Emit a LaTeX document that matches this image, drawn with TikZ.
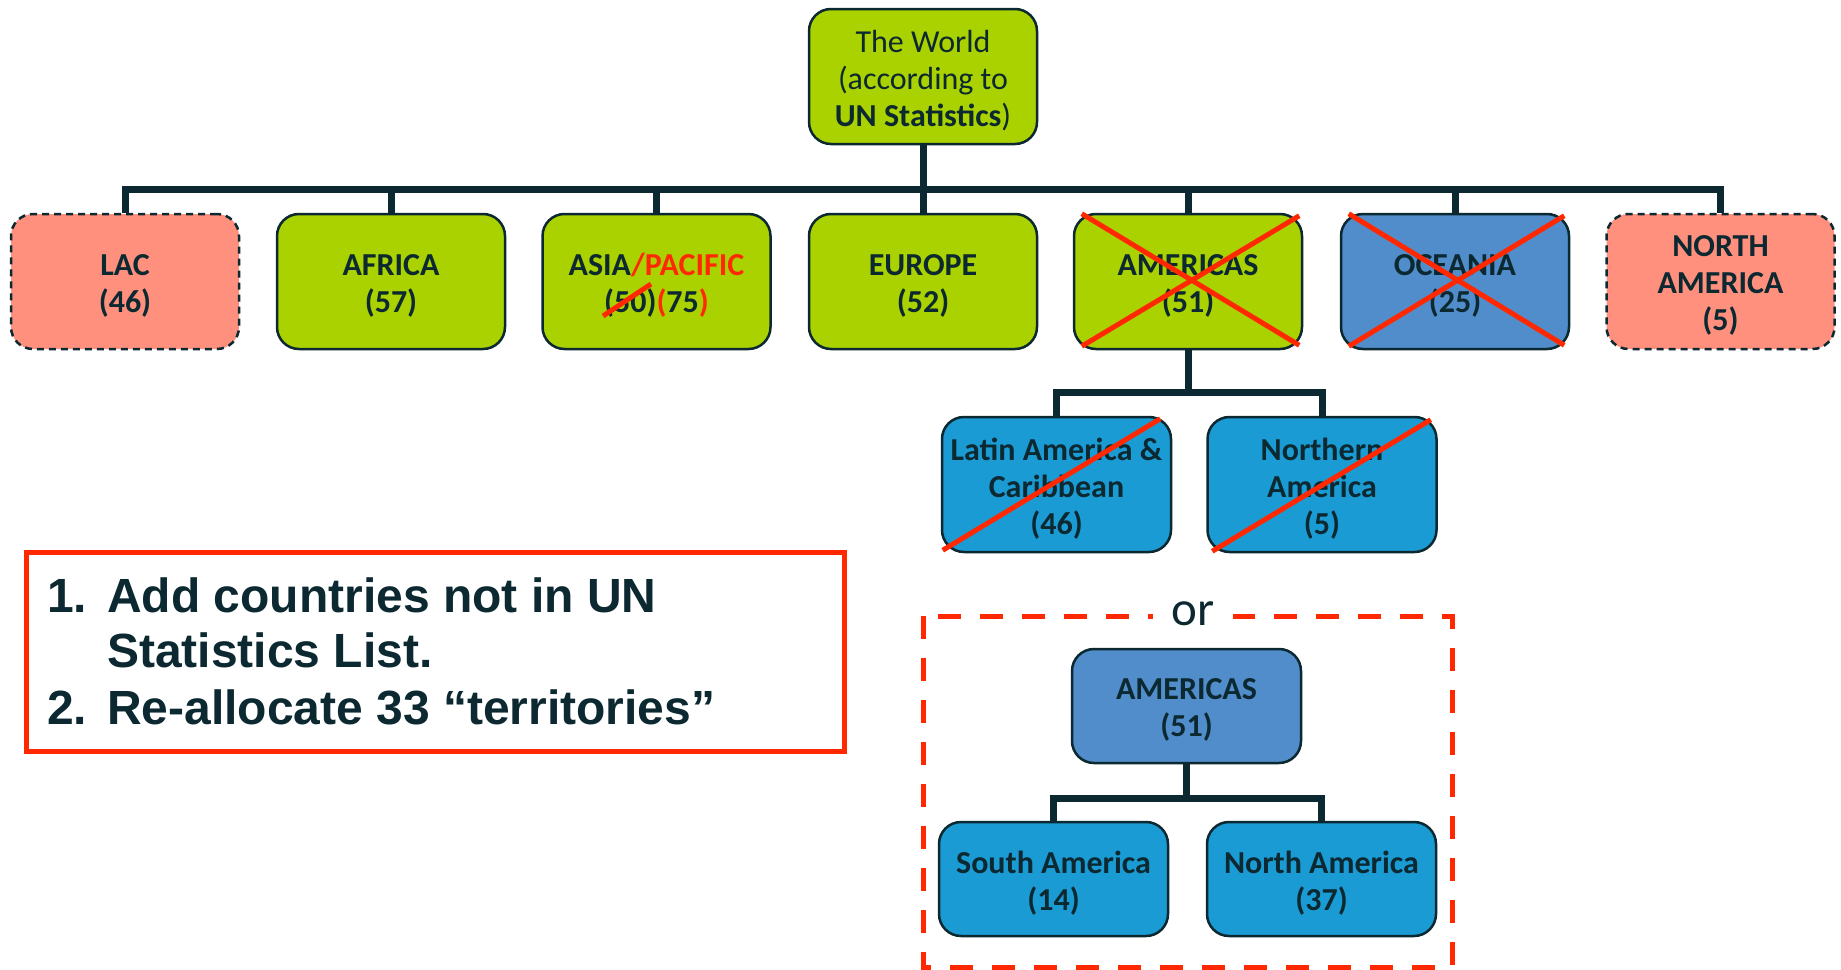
\documentclass[tikz,border=0pt]{standalone}
\usepackage{fontspec}
\newfontfamily\carl{Carlito}
\newfontfamily\arialf{Liberation Sans}
\definecolor{green}{RGB}{170,210,0}
\definecolor{salmon}{RGB}{255,144,126}
\definecolor{oblue}{RGB}{80,141,202}
\definecolor{sblue}{RGB}{27,155,212}
\definecolor{dark}{RGB}{12,40,48}
\definecolor{xred}{RGB}{255,40,0}
% name, position, box options, label options, text
\newcommand\bnode[5]{%
  \node[#3] (#1) at (#2) {};
  \node[lbl,#4] (#1-t) at ([yshift=-4pt]#1.center) {#5};}
\begin{document}
\begin{tikzpicture}[x=1pt,y=-1pt,
  box/.style={draw=dark, line width=2.5pt, rounded corners=22pt, minimum width=228pt, minimum height=135pt, inner sep=0pt},
  dashbox/.style={box, dash pattern=on 7pt off 5pt},
  lbl/.style={align=center, text=dark, inner sep=0pt, font={\carl\bfseries\fontsize{32}{37}\selectfont}},
  plain/.style={font={\carl\fontsize{32}{37}\selectfont}},
  conn/.style={draw=dark, line width=7pt},
  cross/.style={draw=xred, line width=5pt},
  note/.style={anchor=base west, inner sep=0pt, text=dark, font={\arialf\bfseries\fontsize{48}{54}\selectfont}}
]
\useasboundingbox (0,0) rectangle (1841,969);

% top level
\bnode{world}{923,76.5}{box, fill=green}{plain}{The World\\(according to\\\textbf{UN Statistics})}
\bnode{lac}{125,281.5}{dashbox, fill=salmon}{}{LAC\\(46)}
\bnode{africa}{391,281.5}{box, fill=green}{}{AFRICA\\(57)}
\bnode{asia}{656.5,281.5}{box, fill=green}{}{ASIA{\color{xred}/PACIFIC}\\(50){\color{xred}(}75{\color{xred})}}
\bnode{europe}{923,281.5}{box, fill=green}{}{EUROPE\\(52)}
\bnode{amer}{1188,281.5}{box, fill=green}{}{AMERICAS\\(51)}
\bnode{ocean}{1455,281.5}{box, fill=oblue}{}{OCEANIA\\(25)}
\bnode{namer}{1720.5,281.5}{dashbox, fill=salmon}{}{NORTH\\AMERICA\\(5)}

\foreach \c in {lac,africa,asia,europe,amer,ocean,namer}
  \draw[conn] (world.south) -- ++(0,44) -| (\c.north);

% americas subdivision
\bnode{latin}{1056.5,484.5}{box, fill=sblue, minimum width=229pt}{}{Latin America \&\\Caribbean\\(46)}
\bnode{north}{1322,484.5}{box, fill=sblue, minimum width=229pt}{}{Northern\\America\\(5)}
\draw[conn] (amer.south) -- ++(0,42) -| (latin.north);
\draw[conn] (amer.south) -- ++(0,42) -| (north.north);

% crosses
\draw[cross] (603,316) -- (651,284);
\draw[cross] ([shift={(9,1)}]amer.north west) -- ([shift={(-4,-5)}]amer.south east);
\draw[cross] ([shift={(-4,3)}]amer.north east) -- ([shift={(9,-4)}]amer.south west);
\draw[cross] ([shift={(9,1)}]ocean.north west) -- ([shift={(-6,-5)}]ocean.south east);
\draw[cross] ([shift={(-6,3)}]ocean.north east) -- ([shift={(9,-4)}]ocean.south west);
\draw[cross] ([shift={(2,-3)}]latin.south west) -- ([shift={(-12,3)}]latin.north east);
\draw[cross] ([shift={(6,-2)}]north.south west) -- ([shift={(-7,4)}]north.north east);

% note box
\node[draw=xred, line width=5pt, minimum width=818pt, minimum height=199pt, inner sep=0pt] (notebox) at (435,651.5) {};
\node[note] (l1) at (47,612) {\makebox[60pt][l]{1.}Add countries not in UN};
\node[note] (l2) at (107,667) {Statistics List.};
\node[note] (l3) at (47,724) {\makebox[60pt][l]{2.}Re-allocate 33 “territories”};

% alternative
\draw[draw=xred, line width=5pt, dash pattern=on 23pt off 19pt] (923,616) rectangle (1452,967);
\node[fill=white, anchor=base, inner xsep=19pt, inner ysep=2pt, text=dark, font={\carl\fontsize{49}{49}\selectfont}] (or) at (1193,625) {or};
\bnode{altam}{1186.5,706}{box, fill=oblue, minimum width=229pt, minimum height=114pt}{}{AMERICAS\\(51)}
\bnode{south}{1053.5,879}{box, fill=sblue, minimum width=229pt, minimum height=114pt}{}{South America\\(14)}
\bnode{northam}{1321.5,879}{box, fill=sblue, minimum width=229pt, minimum height=114pt}{}{North America\\(37)}
\draw[conn] (altam.south) -- ++(0,34) -| (south.north);
\draw[conn] (altam.south) -- ++(0,34) -| (northam.north);
\end{tikzpicture}
\end{document}
